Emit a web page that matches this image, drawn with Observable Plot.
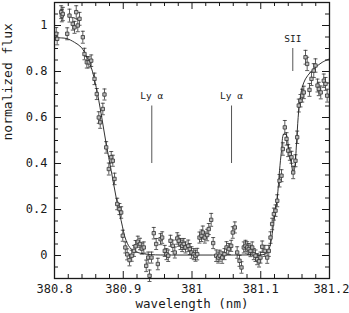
<!DOCTYPE html>
<html><head><meta charset="utf-8">
<script src="https://cdn.jsdelivr.net/npm/d3@7"></script>
<script src="https://cdn.jsdelivr.net/npm/@observablehq/plot@0.6"></script>
<style>body{margin:0;background:#fff}</style>
</head><body><div id="chart"></div>
<script>
// observed spectrum
const wavelength = [
380.8025,380.8039,380.8097,380.8106,380.8121,380.8185,380.8218,380.8266,380.8291,380.8316,380.8339,380.8364,380.8412,
380.8436,380.8470,380.8499,380.8534,380.8582,380.8615,380.8644,380.8665,380.8703,380.8727,380.8752,380.8790,380.8825,
380.8848,380.8873,380.8912,380.8945,380.8970,380.8993,380.9030,
380.9057,380.9091,380.9123,380.9156,380.9180,380.9212,380.9244,380.9270,380.9299,380.9334,380.9363,380.9382,380.9411,
380.9444,380.9479,380.9503,380.9542,380.9566,380.9604,380.9629,380.9654,380.9687,380.9721,380.9750,380.9785,380.9808,
380.9833,380.9857,380.9881,380.9905,380.9945,380.9968,380.9993,381.0026,381.0051,381.0076,381.0109,381.0138,381.0157,
381.0186,381.0221,381.0244,381.0279,381.0308,381.0352,381.0381,381.0404,381.0439,381.0473,381.0502,381.0535,381.0570,
381.0593,381.0623,381.0657,381.0691,381.0720,381.0753,381.0778,381.0803,381.0826,381.0851,381.0876,381.0899,381.0924,
381.0948,381.0975,381.0996,381.1021,381.1059,381.1094,381.1117,381.1142,381.1166,381.1191,381.1215,381.1240,381.1273,
381.1302,381.1321,381.1350,381.1375,381.1399,381.1423,381.1447,381.1472,381.1505,381.1530,381.1553,381.1578,381.1603,
381.1626,381.1651,381.1675,381.1709,381.1738,381.1771,381.1796,381.1825,381.1844,381.1873,381.1917,381.1942,381.1966
];
const flux = [
0.964,0.942,1.058,1.043,1.050,0.964,1.043,1.007,0.992,1.058,1.000,1.029,0.949,
0.876,0.840,0.840,0.847,0.768,0.702,0.600,0.579,0.637,0.700,0.470,0.376,0.427,
0.412,0.333,0.224,0.202,0.187,0.086,0.035,
0.005,-0.020,-0.001,0.020,0.040,0.060,0.050,0.030,0.035,-0.045,-0.009,-0.088,-0.009,
0.097,0.050,-0.037,0.071,0.078,0.020,0.006,-0.001,0.064,0.042,0.013,0.074,0.064,
0.050,0.042,0.050,0.035,0.042,0.028,0.013,0.006,-0.001,0.006,0.078,0.086,0.100,
0.078,0.089,0.115,0.155,0.054,-0.001,-0.009,-0.001,-0.009,0.006,0.035,0.028,0.042,
0.100,0.122,0.013,-0.023,-0.052,0.035,0.042,0.035,0.028,0.020,0.035,0.006,-0.001,
-0.016,-0.025,-0.009,0.038,0.020,-0.009,0.020,0.078,0.137,0.180,0.195,0.238,0.325,
0.347,0.463,0.557,0.507,0.456,0.441,0.427,0.361,0.412,0.514,0.652,0.673,0.695,
0.709,0.862,0.833,0.720,0.768,0.804,0.826,0.739,0.724,0.709,0.760,0.746,0.695
];
const fluxErr = [
0.027,0.026,0.028,0.027,0.029,0.026,0.028,0.027,0.026,0.028,0.027,0.028,0.026,
0.025,0.025,0.024,0.025,0.025,0.024,0.025,0.026,0.025,0.024,0.025,0.026,0.025,
0.024,0.025,0.025,0.024,0.025,0.024,0.024,
0.024,0.025,0.024,0.024,0.025,0.024,0.025,0.024,0.024,0.025,0.024,0.025,0.024,
0.025,0.024,0.025,0.024,0.025,0.024,0.024,0.025,0.024,0.025,0.024,0.025,0.024,
0.024,0.025,0.024,0.024,0.025,0.024,0.025,0.024,0.024,0.025,0.024,0.025,0.028,
0.024,0.025,0.024,0.028,0.024,0.025,0.024,0.024,0.025,0.024,0.025,0.024,0.024,
0.025,0.024,0.025,0.024,0.025,0.024,0.024,0.025,0.024,0.025,0.024,0.024,0.025,
0.024,0.025,0.024,0.025,0.024,0.025,0.024,0.025,0.025,0.026,0.025,0.026,0.027,
0.026,0.027,0.030,0.027,0.026,0.027,0.026,0.027,0.026,0.027,0.028,0.027,0.028,
0.027,0.030,0.029,0.028,0.029,0.030,0.029,0.028,0.029,0.028,0.029,0.028,0.028
];
// fitted model profile
const modelWavelength = [380.800,380.810,380.818,380.829,380.839,380.846,380.8534,380.8607,380.8679,380.8752,380.8825,
  380.8897,380.8970,380.9043,380.9116,380.9212,380.940,380.970,381.000,381.030,381.060,381.090,381.105,381.110,381.1142,
  381.1191,381.1240,381.1273,381.1302,381.1335,381.1370,381.1408,381.1447,381.1472,381.1495,381.1520,381.1544,381.1568,
  381.1603,381.1651,381.1724,381.1796,381.1894,381.2000];
const modelFlux = [0.948,0.946,0.943,0.927,0.905,0.869,0.818,0.731,0.615,0.485,0.369,
  0.252,0.151,0.064,0.028,0.013,0.004,0.002,0.002,0.002,0.002,0.003,0.005,0.015,0.050,
  0.150,0.250,0.369,0.456,0.528,0.525,0.456,0.398,0.356,0.383,0.485,0.600,0.673,
  0.731,0.768,0.797,0.818,0.840,0.855];
// line identifications
const lineNames = ["Ly \u03b1", "Ly \u03b1", "SII"];
const lineWavelength = [380.9415, 381.0575, 381.1466];
const lineFrom = [0.40, 0.40, 0.80];
const lineTo = [0.65, 0.65, 0.90];
const lineTextY = [0.695, 0.695, 0.94];
// axis ticks
const xMajor = [380.8, 380.9, 381, 381.1, 381.2];
const xMinor = [380.82,380.84,380.86,380.88,380.92,380.94,380.96,380.98,381.02,381.04,381.06,381.08,381.12,381.14,381.16,381.18];
const yMajor = [0, 0.2, 0.4, 0.6, 0.8, 1];
const yMinor = [-0.05,0.05,0.1,0.15,0.25,0.3,0.35,0.45,0.5,0.55,0.65,0.7,0.75,0.85,0.9,0.95,1.05];

const points = wavelength.map((w, i) => ({w, f: flux[i], e: fluxErr[i]}));
const model = modelWavelength.map((w, i) => ({w, f: modelFlux[i]}));
const idents = lineNames.map((name, i) => ({name, w: lineWavelength[i], y1: lineFrom[i], y2: lineTo[i], ty: lineTextY[i]}));

const W = 349, H = 313, mL = 54, mR = 20, mT = 2, mB = 35;
const pW = W - mL - mR, pH = H - mT - mB;
const majorLen = 7, minorLen = 4;
const font = "DejaVu Sans Mono";
const ink = "#1a1a1a";
const hbar = {draw(ctx, size) { const r = Math.sqrt(size / Math.PI); ctx.moveTo(-r, 0); ctx.lineTo(r, 0); }};
const fmt = d => String(d);

const chart = Plot.plot({
  width: W, height: H,
  marginLeft: mL, marginRight: mR, marginTop: mT, marginBottom: mB,
  style: {fontFamily: font, fontSize: "12px", background: "white", color: ink},
  x: {domain: [380.8, 381.2], axis: null},
  y: {domain: [-0.1, 1.1], axis: null},
  marks: [
    // inward ticks on all four sides
    Plot.ruleX(xMajor, {x: d => d, insetTop: pH - majorLen, stroke: ink}),
    Plot.ruleX(xMinor, {x: d => d, insetTop: pH - minorLen, stroke: ink}),
    Plot.ruleX(xMajor, {x: d => d, insetBottom: pH - majorLen, stroke: ink}),
    Plot.ruleX(xMinor, {x: d => d, insetBottom: pH - minorLen, stroke: ink}),
    Plot.ruleY(yMajor, {y: d => d, insetRight: pW - majorLen, stroke: ink}),
    Plot.ruleY(yMinor, {y: d => d, insetRight: pW - minorLen, stroke: ink}),
    Plot.ruleY(yMajor, {y: d => d, insetLeft: pW - majorLen, stroke: ink}),
    Plot.ruleY(yMinor, {y: d => d, insetLeft: pW - minorLen, stroke: ink}),
    // tick labels
    Plot.axisX(xMajor.slice(0, 4), {tickSize: 0, tickPadding: 6, label: null, fontSize: 12, fontFamily: font, fill: ink, tickFormat: fmt}),
    Plot.axisX(xMajor.slice(4), {tickSize: 0, tickPadding: 6, label: null, fontSize: 12, fontFamily: font, fill: ink, tickFormat: fmt, textAnchor: "end", dx: 20}),
    Plot.axisY(yMajor, {tickSize: 0, tickPadding: 7, label: null, fontSize: 12, fontFamily: font, fill: ink, tickFormat: fmt}),
    // axis titles
    Plot.text(["wavelength (nm)"], {frameAnchor: "bottom", dy: 29, text: d => d, fontSize: 12.5, fontFamily: font, fill: ink}),
    Plot.text(["normalized flux"], {frameAnchor: "left", dx: -47, rotate: -90, text: d => d, fontSize: 13, fontFamily: font, fill: ink}),
    // line identifications
    Plot.ruleX(idents, {x: "w", y1: "y1", y2: "y2", stroke: "#555", strokeWidth: 1}),
    Plot.text(idents, {x: "w", y: "ty", text: "name", fontSize: 9.5, fontFamily: font, fill: ink}),
    // error bars
    Plot.ruleX(points, {x: "w", y1: d => d.f - d.e, y2: d => d.f + d.e, stroke: "#333", strokeWidth: 0.8}),
    Plot.dot(points, {x: "w", y: d => d.f + d.e, symbol: hbar, r: 2, fill: "none", stroke: "#333", strokeWidth: 0.8}),
    Plot.dot(points, {x: "w", y: d => d.f - d.e, symbol: hbar, r: 2, fill: "none", stroke: "#333", strokeWidth: 0.8}),
    // model
    Plot.line(model, {x: "w", y: "f", curve: "catmull-rom", stroke: ink, strokeWidth: 0.9}),
    // data points
    Plot.dot(points, {x: "w", y: "f", symbol: "square", r: 1.9, fill: "#bbb", stroke: "#333", strokeWidth: 0.8}),
    Plot.frame({stroke: ink, strokeWidth: 1.3})
  ]
});
document.getElementById("chart").appendChild(chart);
</script>
</body></html>
